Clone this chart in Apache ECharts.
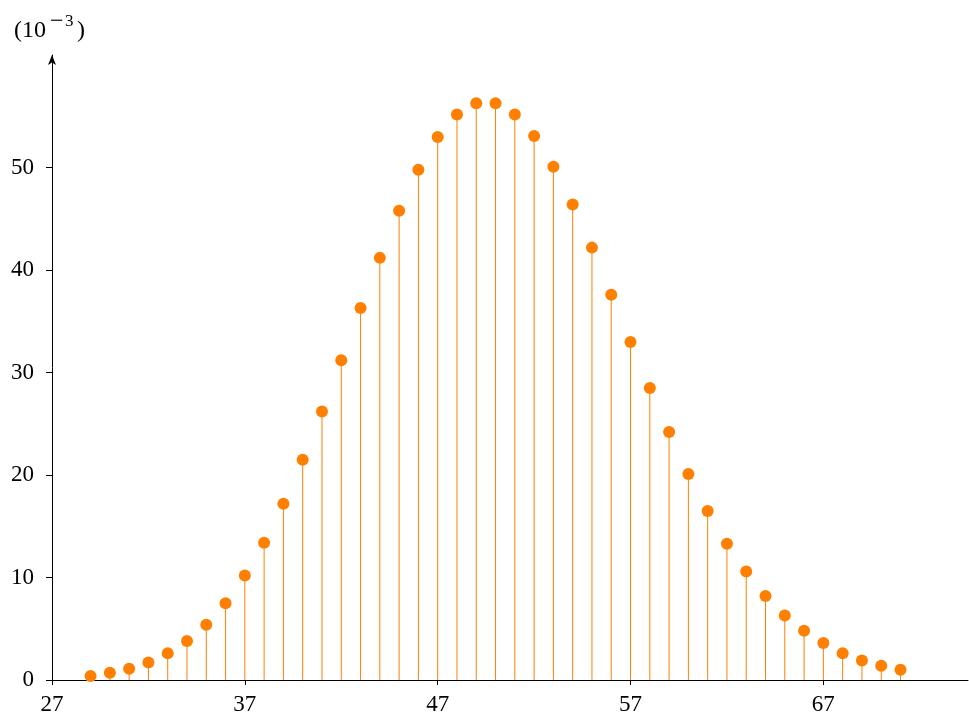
<!DOCTYPE html>
<html>
<head>
<meta charset="utf-8">
<script src="https://cdn.jsdelivr.net/npm/echarts@6/dist/echarts.min.js"></script>
<style>
  html, body { margin: 0; padding: 0; background: #fff; }
  #main { width: 969px; height: 717px; }
</style>
</head>
<body>
<div id="main"></div>
<script>
// 数据（单位 10^-3）
var xs = [29, 30, 31, 32, 33, 34, 35, 36, 37, 38, 39, 40, 41, 42, 43, 44, 45, 46, 47, 48, 49, 50,
  51, 52, 53, 54, 55, 56, 57, 58, 59, 60, 61, 62, 63, 64, 65, 66, 67, 68, 69, 70, 71];
var ys = [0.4, 0.7, 1.1, 1.7, 2.6, 3.8, 5.4, 7.5, 10.2, 13.4, 17.2, 21.5, 26.2, 31.2, 36.3, 41.2,
  45.8, 49.8, 53.0, 55.2, 56.3, 56.3, 55.2, 53.1, 50.1, 46.4, 42.2, 37.6, 33.0, 28.5, 24.2,
  20.1, 16.5, 13.3, 10.6, 8.2, 6.3, 4.8, 3.6, 2.6, 1.9, 1.4, 1.0];
var xTicks = [27, 37, 47, 57, 67];
var yTicks = [0, 10, 20, 30, 40, 50];

var pts = xs.map(function (x, i) { return [x, ys[i]]; });
var orange = "#ff8000";
var font = "Liberation Serif";

var myChart = echarts.init(document.getElementById("main"));

var option = {
  animation: false,
  textStyle: { fontFamily: font },
  grid: { left: 52, right: 1, top: 55, bottom: 37 },
  // 单位标注 (10^-3)
  graphic: [
    { type: "text", x: 14, y: 31, style: { text: "(10", font: "24px 'Liberation Serif'", fill: "#000", verticalAlign: "middle" } },
    { type: "text", x: 50, y: 22, style: { text: "−", font: "24px 'Liberation Serif'", fill: "#000", verticalAlign: "middle" } },
    { type: "text", x: 65, y: 22, style: { text: "3", font: "17px 'Liberation Serif'", fill: "#000", verticalAlign: "middle" } },
    { type: "text", x: 77, y: 31, style: { text: ")", font: "24px 'Liberation Serif'", fill: "#000", verticalAlign: "middle" } }
  ],
  xAxis: {
    type: "value",
    min: 27,
    max: 74.5,
    interval: 10,
    splitLine: { show: false },
    axisLine: { onZero: false, lineStyle: { color: "#000", width: 1 } },
    axisTick: { show: true, length: 5, customValues: xTicks, lineStyle: { color: "#000" } },
    axisLabel: { customValues: xTicks, color: "#000", fontSize: 23, fontFamily: font, margin: 13 }
  },
  yAxis: {
    type: "value",
    min: 0,
    max: 61,
    interval: 10,
    splitLine: { show: false },
    axisLine: {
      show: true,
      symbol: ["none", "arrow"],
      symbolSize: [6, 10],
      lineStyle: { color: "#000", width: 1 }
    },
    axisTick: { show: true, length: 6, customValues: yTicks, lineStyle: { color: "#000" } },
    axisLabel: { customValues: yTicks, color: "#000", fontSize: 23, fontFamily: font, margin: 18 }
  },
  series: [
    {
      type: "bar",
      data: pts,
      barWidth: 1,
      itemStyle: { color: orange },
      z: 2
    },
    {
      type: "scatter",
      data: pts,
      symbol: "circle",
      symbolSize: 12,
      itemStyle: { color: orange, opacity: 1 },
      z: 3
    }
  ]
};

myChart.setOption(option);
</script>
</body>
</html>
